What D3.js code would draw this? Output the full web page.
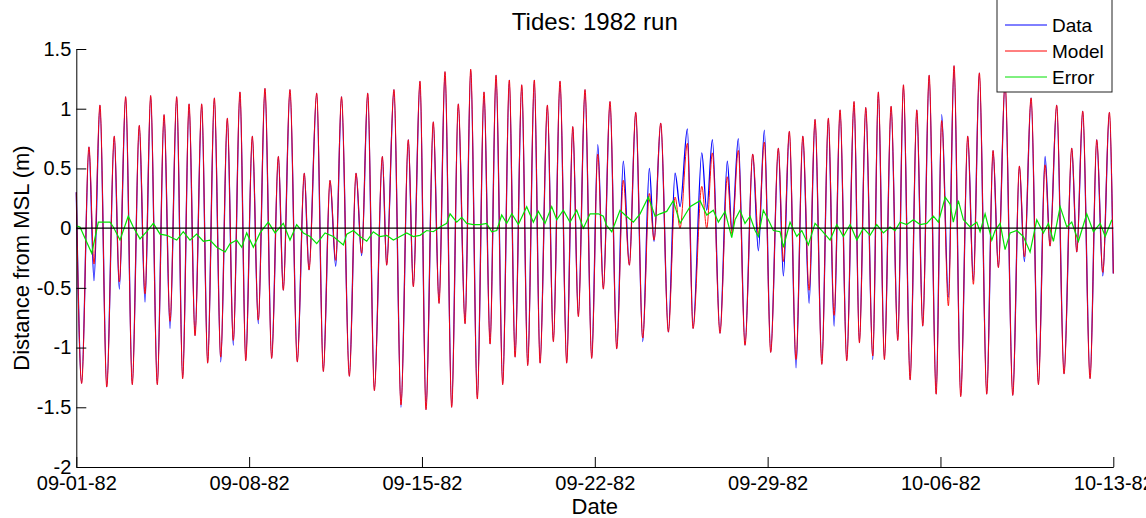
<!DOCTYPE html>
<html>
<head>
<meta charset="utf-8">
<script src="https://cdn.jsdelivr.net/npm/d3@7"></script>
<style>
  html, body { margin: 0; padding: 0; background: #fff; }
  svg { display: block; font-family: Arial, "Liberation Sans", sans-serif; }
</style>
</head>
<body>
<svg id="chart" width="1146" height="518"></svg>
<script>
// ---------------- DATA ----------------
const titleText = "Tides: 1982 run";
const xLabel = "Date";
const yLabel = "Distance from MSL (m)";
const seriesNames = ["Data", "Model", "Error"];
const startDay = "1982-09-01";
const endDay = "1982-10-13";
const tickDays = ["1982-09-01", "1982-09-08", "1982-09-15", "1982-09-22", "1982-09-29", "1982-10-06", "1982-10-13"];
const yTicks = [-2, -1.5, -1, -0.5, 0, 0.5, 1, 1.5];

// hours since 09-01-82 00:00 of each high / low water
const extremeHours = [
  0, 5.2, 12.3, 17.2, 23.0, 29.6, 36.9, 41.8, 48.0, 54.4, 61.2, 66.8, 72.3, 78.7, 85.3, 91.1,
  97.6, 103.4, 109.6, 115.4, 121.9, 127.7, 134.2, 140.4, 146.8, 152.6, 159.1, 164.7, 171.1, 176.9,
  183.4, 189.9, 196.4, 201.2, 207.7, 214.8, 221.6, 226.2, 233.7, 240.1, 246.6, 252.2, 257.8, 265.4,
  271.9, 277.4, 283.3, 289.7, 297.5, 301.7, 308.8, 315.6, 322.7, 327.6, 334.1, 339.9, 347.0, 352.6,
  358.4, 364.9, 371.3, 377.9, 383.4, 389.8, 396.3, 402.2, 408.0, 414.5, 420.9, 426.5, 433.0, 438.8,
  445.2, 450.8, 457.9, 463.7, 470.2, 476.7, 482.6, 488.0, 494.5, 501.0, 506.9, 512.3, 518.8, 525.3,
  531.7, 537.6, 543.8, 550.6, 557.0, 561.6, 568.1, 575.5, 582.0, 586.9, 594.0, 599.5, 608.0, 612.8,
  618.3, 625.7, 632.8, 637.4, 643.5, 650.0, 657.5, 663.0, 668.8, 675.0, 682.4, 687.3, 693.1, 699.6,
  706.2, 712.3, 718.1, 724.7, 731.0, 736.6, 742.4, 748.9, 756.0, 761.2, 767.4, 774.2, 779.6, 785.5,
  792.0, 798.5, 804.0, 810.5, 817.0, 822.8, 829.0, 835.8, 841.2, 847.7, 853.2, 859.7, 866.5, 872.0,
  877.8, 885.0, 891.1, 896.3, 902.8, 910.3, 916.7, 921.6, 928.1, 935.2, 941.7, 946.5, 953.0, 960.1,
  967.6, 972.5, 978.3, 985.4, 991.9, 997.8, 1004.2, 1008.0
];

// Model (red) water level at each extreme, m
const modelValues = [
  0.30, -1.30, 0.68, -0.30, 1.03, -1.33, 0.77, -0.45, 1.10, -1.31, 0.86, -0.55, 1.11, -1.31, 0.95, -0.78,
  1.10, -1.26, 1.04, -0.90, 1.04, -1.13, 1.09, -1.08, 0.92, -0.94, 1.14, -1.11, 0.77, -0.77,
  1.17, -1.09, 0.60, -0.52, 1.16, -1.12, 0.46, -0.35, 1.13, -1.20, 0.40, -0.27, 1.10, -1.24,
  0.46, -0.21, 1.13, -1.36, 0.60, -0.31, 1.16, -1.48, 0.74, -0.49, 1.23, -1.52, 0.89, -0.63,
  1.31, -1.50, 1.04, -0.80, 1.33, -1.43, 1.14, -0.97, 1.28, -1.31, 1.24, -1.08, 1.20, -1.15,
  1.24, -1.13, 1.03, -0.95, 1.23, -1.13, 0.85, -0.74, 1.16, -1.09, 0.62, -0.51, 1.06, -1.01,
  0.40, -0.31, 0.97, -0.92, 0.29, -0.10, 0.88, -0.87, 0.26, 0.00, 0.71, -0.84, 0.35, 0.00,
  0.63, -0.88, 0.43, -0.05, 0.65, -0.98, 0.62, -0.05, 0.72, -1.04, 0.67, -0.28, 0.81, -1.10,
  0.77, -0.52, 0.91, -1.14, 0.92, -0.73, 0.99, -1.11, 1.06, -0.96, 1.01, -1.07, 1.14, -1.10,
  1.02, -0.94, 1.20, -1.27, 0.99, -0.82, 1.28, -1.39, 0.90, -0.65, 1.36, -1.41, 0.77, -0.47,
  1.30, -1.39, 0.65, -0.33, 1.22, -1.40, 0.52, -0.24, 1.09, -1.31, 0.53, -0.15, 1.03, -1.22,
  0.67, -0.20, 0.98, -1.26, 0.74, -0.37, 0.97, -0.38
];

// Observed data (blue) at the same extremes, m
const dataValues = [
  0.30, -1.30, 0.68, -0.44, 1.03, -1.33, 0.77, -0.51, 1.10, -1.31, 0.86, -0.62, 1.11, -1.31, 0.95, -0.84,
  1.10, -1.26, 1.04, -0.90, 1.04, -1.13, 1.09, -1.12, 0.92, -0.98, 1.14, -1.11, 0.77, -0.80,
  1.17, -1.09, 0.60, -0.52, 1.16, -1.12, 0.46, -0.35, 1.13, -1.20, 0.40, -0.32, 1.10, -1.24,
  0.46, -0.23, 1.13, -1.36, 0.60, -0.31, 1.16, -1.50, 0.74, -0.49, 1.23, -1.52, 0.89, -0.63,
  1.31, -1.50, 1.04, -0.80, 1.33, -1.43, 1.14, -0.97, 1.28, -1.31, 1.24, -1.08, 1.20, -1.15,
  1.24, -1.13, 1.03, -0.95, 1.23, -1.13, 0.85, -0.74, 1.16, -1.09, 0.70, -0.51, 1.06, -1.01,
  0.56, -0.31, 0.97, -0.95, 0.50, -0.11, 0.88, -0.87, 0.46, 0.18, 0.83, -0.84, 0.63, 0.15,
  0.74, -0.88, 0.56, -0.02, 0.75, -0.98, 0.62, -0.19, 0.82, -1.04, 0.67, -0.40, 0.81, -1.17,
  0.77, -0.63, 0.91, -1.14, 0.92, -0.82, 0.99, -1.11, 1.06, -0.96, 1.01, -1.10, 1.14, -1.10,
  1.02, -0.94, 1.20, -1.27, 0.99, -0.82, 1.28, -1.39, 0.95, -0.58, 1.36, -1.41, 0.77, -0.44,
  1.30, -1.39, 0.65, -0.33, 1.22, -1.40, 0.52, -0.28, 1.09, -1.31, 0.60, -0.15, 1.03, -1.22,
  0.67, -0.20, 0.98, -1.26, 0.74, -0.40, 0.97, -0.38
];

// Error (green) samples: hours since start, value in m
const errorHours = [
  0, 3.6, 15.0, 21.4, 32.8, 36.0, 42.5, 50.5, 55.4, 61.9, 68.4, 74.9, 81.4, 87.9, 97.6, 104.0,
  110.5, 117.0, 123.5, 130.0, 136.5, 144.6, 149.4, 155.9, 160.8, 165.6, 172.1, 178.6, 186.6, 193.2,
  201.2, 207.7, 214.2, 220.7, 227.2, 233.7, 241.8, 249.8, 259.6, 262.9, 269.3, 275.8, 282.3, 288.7,
  295.2, 301.7, 308.2, 314.7, 321.2, 327.6, 334.1, 340.6, 347.0, 353.6, 360.1, 363.3, 369.8, 374.6,
  379.5, 385.9, 392.4, 398.9, 403.8, 408.7, 413.5, 418.4, 423.3, 429.7, 437.8, 444.3, 449.1, 455.6,
  462.1, 467.0, 473.4, 479.9, 486.4, 492.9, 499.4, 507.4, 512.3, 515.6, 520.5, 528.5, 533.4, 541.5,
  548.0, 556.0, 562.6, 567.4, 573.9, 580.3, 586.9, 591.7, 596.6, 606.3, 612.8, 619.2, 624.1, 630.6,
  637.1, 640.3, 645.2, 650.0, 654.9, 659.8, 663.0, 667.8, 672.7, 677.6, 684.1, 687.3, 693.8, 700.3,
  705.2, 711.6, 718.1, 724.7, 732.7, 739.2, 745.6, 752.2, 758.7, 765.1, 771.5, 778.0, 784.5, 791.0,
  795.9, 800.7, 807.2, 813.7, 820.2, 826.7, 833.1, 838.0, 844.6, 849.4, 852.5, 857.4, 862.3, 868.8,
  875.3, 878.5, 883.4, 889.9, 893.1, 898.0, 902.8, 907.7, 914.2, 920.6, 927.1, 933.6, 940.0, 944.9,
  949.8, 956.3, 962.8, 967.6, 974.1, 982.2, 988.7, 995.3, 1000.1, 1006.6
];
const errorValues = [
  0.02, 0.01, -0.21, 0.05, 0.05, 0.01, -0.10, 0.10, 0.01, -0.09, -0.03, 0.04, -0.05, -0.06, -0.10, -0.03,
  -0.10, -0.05, -0.11, -0.10, -0.16, -0.20, -0.13, -0.10, -0.16, -0.04, -0.16, -0.04, 0.05, -0.04,
  0.04, -0.10, 0.03, -0.04, -0.07, -0.13, -0.04, -0.07, -0.14, -0.05, -0.02, -0.07, -0.11, -0.03,
  -0.07, -0.06, -0.10, -0.07, -0.04, -0.07, -0.06, -0.02, -0.03, 0.01, 0.04, 0.12, 0.05, 0.09,
  0.04, 0.03, 0.03, 0.04, -0.03, -0.02, 0.11, 0.04, 0.12, 0.03, 0.18, 0.05, 0.14, 0.04,
  0.18, 0.07, 0.15, 0.05, 0.15, 0.00, 0.12, 0.12, 0.10, 0.02, -0.03, 0.15, 0.11, 0.05,
  0.12, 0.26, 0.10, 0.12, 0.14, 0.23, 0.04, 0.11, 0.18, 0.23, 0.11, 0.15, 0.05, 0.14,
  -0.08, 0.07, 0.15, 0.04, 0.10, -0.02, -0.07, 0.15, 0.07, -0.02, -0.03, -0.16, 0.05, -0.07,
  -0.02, -0.14, 0.04, -0.02, -0.10, 0.03, -0.07, 0.03, -0.10, 0.00, -0.06, 0.03, -0.04, 0.01,
  -0.02, 0.05, 0.03, 0.07, 0.03, 0.04, 0.10, 0.05, 0.26, 0.20, 0.05, 0.23, 0.07, 0.01,
  0.05, -0.03, 0.12, -0.10, -0.02, 0.04, -0.18, -0.04, -0.02, -0.07, -0.20, 0.07, -0.04, 0.04,
  -0.11, 0.18, 0.01, 0.05, -0.11, 0.12, -0.03, 0.04, -0.07, 0.07
];

const colors = { Data: "#0000ff", Model: "#ff0000", Error: "#00e000" };

// ---------------- CHART ----------------
const svg = d3.select("#chart");
const W = 1146, H = 518;
const margin = { left: 76.3, right: W - 1113.3, top: 49, bottom: H - 467 };

const t0 = new Date(startDay + "T00:00:00Z");
const hourToDate = h => new Date(t0.getTime() + h * 3600 * 1000);

const x = d3.scaleUtc()
  .domain([t0, new Date(endDay + "T00:00:00Z")])
  .range([margin.left, W - margin.right]);
const y = d3.scaleLinear()
  .domain([-2, 1.5])
  .range([H - margin.bottom, margin.top]);

const smooth = d3.line()
  .x(d => x(hourToDate(d[0])))
  .y(d => y(d[1]))
  .curve(d3.curveMonotoneX);
const straight = d3.line()
  .x(d => x(hourToDate(d[0])))
  .y(d => y(d[1]));

const dataPts = extremeHours.map((h, i) => [h, dataValues[i]]);
const modelPts = extremeHours.map((h, i) => [h, modelValues[i]]);
const errPts = errorHours.map((h, i) => [h, errorValues[i]]);

const plot = svg.append("g");
plot.append("path").attr("d", smooth(dataPts)).attr("fill", "none")
  .attr("stroke", colors.Data).attr("stroke-width", 1.3);
plot.append("path").attr("d", smooth(modelPts)).attr("fill", "none")
  .attr("stroke", colors.Model).attr("stroke-width", 1).attr("stroke-opacity", 0.92);
plot.append("path").attr("d", straight(errPts)).attr("fill", "none")
  .attr("stroke", colors.Error).attr("stroke-width", 1.2);

// zero reference line
plot.append("line")
  .attr("x1", x.range()[0]).attr("x2", x.range()[1])
  .attr("y1", y(0)).attr("y2", y(0))
  .attr("stroke", "#000").attr("stroke-width", 1.3);

// axes
const fmt = d3.utcFormat("%m-%d-%y");
const xAxis = d3.axisBottom(x)
  .tickValues(tickDays.map(s => new Date(s + "T00:00:00Z")))
  .tickFormat(fmt)
  .tickSizeInner(-10).tickSizeOuter(0).tickPadding(9);
const gx = svg.append("g").attr("transform", `translate(0,${H - margin.bottom})`).call(xAxis);

const yAxis = d3.axisLeft(y)
  .tickValues(yTicks)
  .tickFormat(d => String(d))
  .tickSizeInner(-10).tickSizeOuter(0).tickPadding(5);
const gy = svg.append("g").attr("transform", `translate(${margin.left},0)`).call(yAxis);

[gx, gy].forEach(g => {
  g.selectAll("text").attr("font-size", 20).attr("fill", "#000")
    .attr("font-family", 'Arial, "Liberation Sans", sans-serif');
  g.selectAll("line").attr("stroke", "#000");
  g.select(".domain").attr("stroke", "#000");
});

// title and labels
svg.append("text").attr("x", (x.range()[0] + x.range()[1]) / 2).attr("y", 30)
  .attr("text-anchor", "middle").attr("font-size", 24).text(titleText);
svg.append("text").attr("x", (x.range()[0] + x.range()[1]) / 2).attr("y", 514)
  .attr("text-anchor", "middle").attr("font-size", 22).text(xLabel);
svg.append("text")
  .attr("transform", `translate(29,${(y.range()[0] + y.range()[1]) / 2}) rotate(-90)`)
  .attr("text-anchor", "middle").attr("font-size", 22).text(yLabel);

// legend
const lg = svg.append("g");
lg.append("rect").attr("x", 997).attr("y", -3).attr("width", 115).attr("height", 95)
  .attr("fill", "#fff").attr("stroke", "#222").attr("stroke-width", 1);
const legendY = d3.scalePoint().domain(seriesNames).range([25, 77]);
seriesNames.forEach(name => {
  lg.append("line").attr("x1", 1005).attr("x2", 1047)
    .attr("y1", legendY(name)).attr("y2", legendY(name))
    .attr("stroke", colors[name]).attr("stroke-width", 1);
  lg.append("text").attr("x", 1052).attr("y", legendY(name)).attr("dy", "0.35em")
    .attr("font-size", 19).text(name);
});
</script>
</body>
</html>
